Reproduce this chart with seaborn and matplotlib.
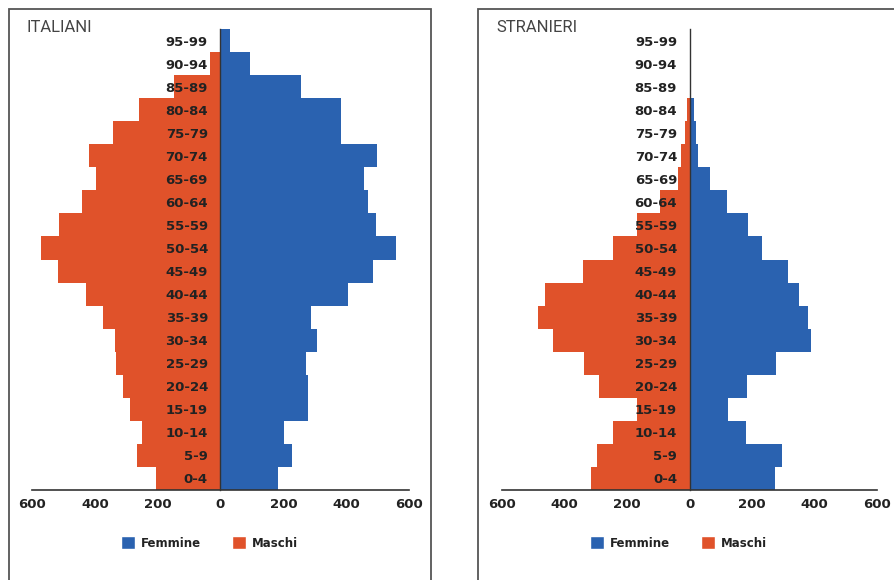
import numpy as np
import matplotlib
matplotlib.use("Agg")
import matplotlib.pyplot as plt
from matplotlib.patches import Patch, Rectangle
import seaborn as sns

# age groups, bottom to top
ages = ['0-4', '5-9', '10-14', '15-19', '20-24', '25-29', '30-34', '35-39',
        '40-44', '45-49', '50-54', '55-59', '60-64', '65-69', '70-74',
        '75-79', '80-84', '85-89', '90-94', '95-99']

ita_femmine = [184, 229, 202, 279, 279, 272, 306, 288, 405, 486,
               560, 494, 470, 456, 498, 384, 384, 256, 95, 31]
ita_maschi = [204, 266, 249, 288, 311, 333, 335, 375, 429, 517,
              570, 514, 440, 397, 420, 343, 258, 148, 33, 3]

str_femmine = [273, 295, 181, 122, 183, 277, 388, 377, 351, 316,
               231, 188, 119, 66, 27, 21, 13, 0, 0, 0]
str_maschi = [314, 296, 243, 168, 290, 336, 437, 485, 461, 340,
              243, 168, 94, 38, 28, 14, 9, 0, 0, 0]

xticks = [-600, -400, -200, 0, 200, 400, 600]

BLUE = '#2a62b0'
ORANGE = '#e0522a'
DARK = '#222222'

sns.set_style('white')
plt.rcParams['font.family'] = ['DejaVu Sans']

fig = plt.figure(figsize=(8.95, 5.8), dpi=100)
W, H = 895, 580


def panel(left_px, width_px, fem, mas, title, title_x):
    ax = fig.add_axes([left_px / W, (H - 490) / H, width_px / W, 461 / H])
    order = ages[::-1]
    sns.barplot(x=fem, y=ages, order=order, orient='h', color=BLUE,
                width=1, linewidth=0, saturation=1, ax=ax)
    sns.barplot(x=[-v for v in mas], y=ages, order=order, orient='h',
                color=ORANGE, width=1, linewidth=0, saturation=1, ax=ax)
    ax.set_axisbelow(False)  # age labels sit on top of the bars
    ax.set_xlim(-600, 600)
    ax.set_ylim(19.5, -0.5)
    ax.set_xlabel('')
    ax.set_ylabel('')
    ax.set_xticks(xticks)
    ax.set_xticklabels([str(abs(t)) for t in xticks])
    for s in ['top', 'right']:
        ax.spines[s].set_visible(False)
    ax.spines['left'].set_position(('data', 0))
    ax.spines['left'].set_color('#333333')
    ax.spines['left'].set_linewidth(1.0)
    ax.spines['bottom'].set_color('#333333')
    ax.spines['bottom'].set_linewidth(1.2)
    ax.tick_params(axis='x', direction='in', length=4, width=1.2,
                   color='#333333', labelsize=9.5, labelcolor=DARK, pad=6)
    ax.tick_params(axis='y', length=0, pad=9, labelsize=9.5, labelcolor=DARK)
    for lab in ax.get_xticklabels() + ax.get_yticklabels():
        lab.set_fontweight('bold')
    ax.set_facecolor('none')

    handles = [Patch(facecolor=BLUE, label='Femmine'),
               Patch(facecolor=ORANGE, label='Maschi')]
    leg = ax.legend(handles=handles, loc='center', bbox_to_anchor=(0.47, -0.115),
                    ncol=2, frameon=False, handlelength=1.2, handleheight=1.2,
                    handletextpad=0.5, columnspacing=2.6,
                    prop={'size': 8.5, 'weight': 'bold'})
    for t in leg.get_texts():
        t.set_color(DARK)

    fig.text(title_x / W, 1 - 27 / H, title, ha='left', va='center',
             fontsize=12, family='Roboto', color='#444444')
    return ax


panel(32, 377, ita_femmine, ita_maschi, 'ITALIANI', 27)
panel(501.7, 375.6, str_femmine, str_maschi, 'STRANIERI', 496)

# panel frames
for x0, x1 in [(8.5, 431), (477.7, 1000)]:
    fig.patches.append(Rectangle((x0 / W, -0.1), (x1 - x0) / W, (H - 9.5) / H + 0.1,
                                 transform=fig.transFigure, fill=False,
                                 edgecolor='#555555', linewidth=1.3))

fig.savefig('out.png', dpi=100, facecolor='white')
